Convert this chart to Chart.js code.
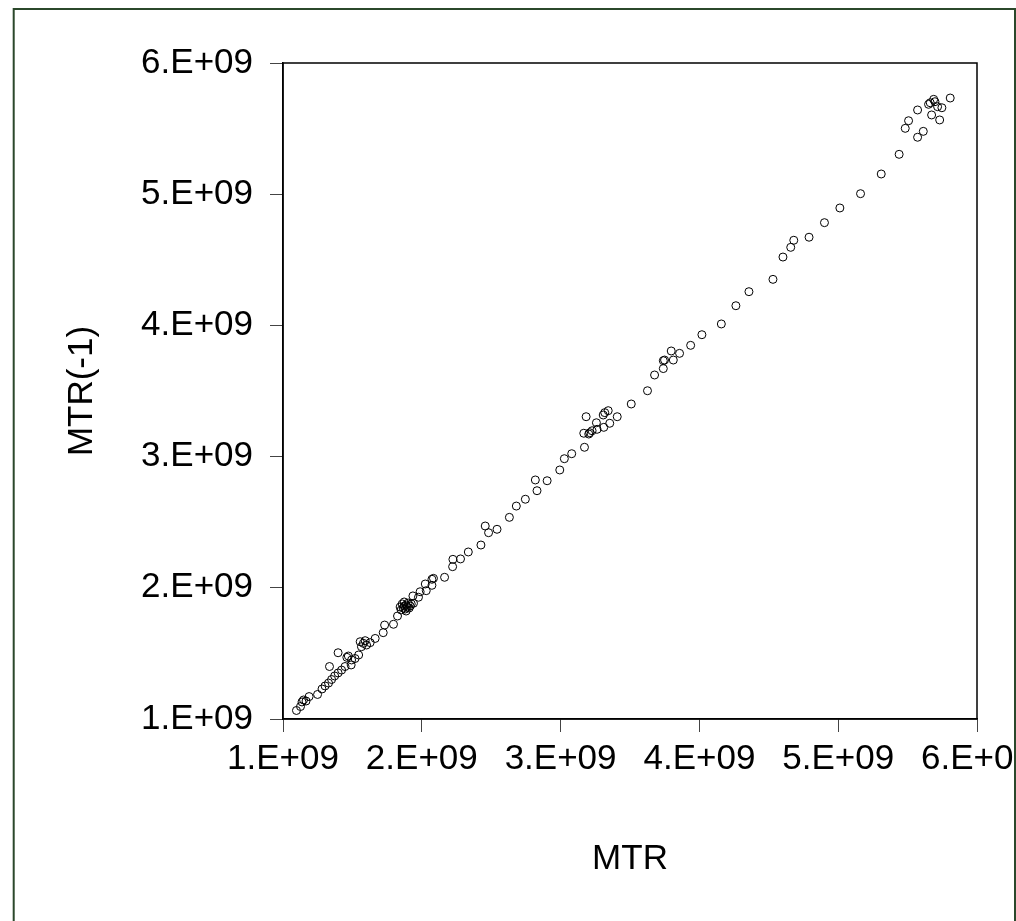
<!DOCTYPE html>
<html><head><meta charset="utf-8">
<script src="https://cdn.jsdelivr.net/npm/chart.js@4/dist/chart.umd.min.js"></script>
<style>html,body{margin:0;padding:0;background:#fff;overflow:hidden}canvas{display:block}</style>
</head><body>
<canvas id="c" width="1016" height="921"></canvas>
<script>
// MTR (x) and MTR(-1) (y), values in units of 1e9
const mtr = [
1.097,1.126,1.137,1.148,1.166,1.188,1.249,1.281,1.303,1.328,1.350,1.372,1.335,1.397,1.422,1.447,1.397,1.460,1.471,1.494,
1.491,1.519,1.545,1.556,1.565,1.579,1.592,1.602,1.628,1.664,1.722,1.732,1.796,1.825,
1.844,1.851,1.859,1.866,1.873,1.880,1.887,1.895,1.902,1.909,1.916,1.924,1.873,1.887,
1.940,1.936,1.976,1.988,2.032,2.025,2.073,2.073,2.084,2.164,2.222,2.224,2.279,2.335,2.426,2.457,2.481,2.542,2.631,2.681,
2.746,2.830,2.818,2.903,2.994,3.027,3.080,3.172,3.184,3.167,3.203,3.210,3.227,3.263,3.258,3.311,3.307,3.318,3.343,3.354,
3.408,3.509,3.626,3.677,3.740,3.740,3.749,3.812,3.797,3.857,3.937,4.018,4.158,4.263,4.357,4.530,4.602,4.658,4.680,4.790,
4.901,5.012,5.161,5.310,5.439,5.483,5.507,5.572,5.613,5.572,5.651,5.673,5.688,5.697,5.716,5.747,5.731,5.807,5.663
];
const mtrLag = [
1.065,1.095,1.130,1.145,1.137,1.171,1.187,1.229,1.252,1.274,1.301,1.328,1.400,1.351,1.373,1.400,1.505,1.470,1.480,1.450,
1.412,1.461,1.488,1.589,1.551,1.577,1.597,1.564,1.582,1.614,1.658,1.716,1.722,1.785,
1.854,1.831,1.877,1.846,1.861,1.838,1.869,1.854,1.884,1.846,1.861,1.877,1.892,1.823,
1.882,1.938,1.928,1.970,1.978,2.029,2.019,2.065,2.072,2.080,2.161,2.217,2.220,2.273,2.326,2.471,2.420,2.446,2.537,2.623,
2.675,2.740,2.822,2.816,2.898,2.984,3.022,3.071,3.304,3.178,3.172,3.182,3.197,3.208,3.258,3.223,3.317,3.335,3.350,3.254,
3.304,3.401,3.502,3.622,3.671,3.731,3.736,3.736,3.805,3.787,3.848,3.929,4.011,4.150,4.257,4.351,4.521,4.595,4.649,4.672,
4.783,4.895,5.004,5.154,5.304,5.502,5.560,5.434,5.479,5.642,5.685,5.604,5.723,5.705,5.667,5.659,5.566,5.733,5.697
];
const tickValues = [1, 2, 3, 4, 5, 6];
const xTitle = 'MTR';
const yTitle = 'MTR(-1)';

const SCALE = 1e9;
const points = mtr.map((v, i) => ({x: v * SCALE, y: mtrLag[i] * SCALE}));
const tickLabel = v => Math.round(v / SCALE) + '.E+09';
const FONT = {family: '"Liberation Sans", Arial, sans-serif', size: 35};

const framePlugin = {
  id: 'frame',
  afterDraw(chart) {
    const {ctx, chartArea: a} = chart;
    ctx.save();
    ctx.strokeStyle = '#000';
    ctx.lineWidth = 1.5;
    ctx.strokeRect(a.left, a.top, a.right - a.left, a.bottom - a.top);
    ctx.strokeStyle = '#2b482b';
    ctx.lineWidth = 2;
    ctx.beginPath();
    ctx.moveTo(13.7, 921);
    ctx.lineTo(13.7, 9);
    ctx.lineTo(1015, 9);
    ctx.lineTo(1015, 921);
    ctx.stroke();
    ctx.restore();
  }
};

const zeroPad = s => { s.paddingLeft = 0; s.paddingRight = 0; s.paddingTop = 0; s.paddingBottom = 0; };

new Chart(document.getElementById('c'), {
  type: 'scatter',
  data: {
    datasets: [{
      data: points,
      pointStyle: 'circle',
      pointRadius: 4,
      pointBorderWidth: 1,
      pointBorderColor: '#000',
      pointBackgroundColor: 'rgba(0,0,0,0)',
      showLine: false
    }]
  },
  options: {
    responsive: false,
    devicePixelRatio: 1,
    animation: false,
    events: [],
    layout: {autoPadding: false, padding: {left: 0, top: 63, right: 39, bottom: 0}},
    plugins: {legend: {display: false}, tooltip: {enabled: false}},
    scales: {
      x: {
        type: 'linear', position: 'bottom',
        min: tickValues[0] * SCALE, max: tickValues[tickValues.length - 1] * SCALE,
        afterBuildTicks: s => { s.ticks = tickValues.map(v => ({value: v * SCALE})); },
        afterFit: s => { s.height = 202; zeroPad(s); },
        ticks: {callback: tickLabel, font: FONT, color: '#000', padding: 6, maxRotation: 0, minRotation: 0, autoSkip: false},
        grid: {drawOnChartArea: false, drawTicks: true, tickLength: 13, color: '#444', lineWidth: 1},
        border: {display: true, color: '#000', width: 1.5},
        title: {display: true, text: xTitle, font: FONT, color: '#000', padding: {top: 0, bottom: 41}}
      },
      y: {
        type: 'linear', position: 'left',
        min: tickValues[0] * SCALE, max: tickValues[tickValues.length - 1] * SCALE,
        afterBuildTicks: s => { s.ticks = tickValues.map(v => ({value: v * SCALE})); },
        afterFit: s => { s.width = 283; zeroPad(s); },
        ticks: {callback: tickLabel, font: FONT, color: '#000', padding: 17, autoSkip: false},
        grid: {drawOnChartArea: false, drawTicks: true, tickLength: 13, color: '#444', lineWidth: 1},
        border: {display: true, color: '#000', width: 1.5},
        title: {display: true, text: yTitle, font: FONT, color: '#000', padding: {top: 61, bottom: 0}}
      }
    }
  },
  plugins: [framePlugin]
});
</script>
</body></html>
